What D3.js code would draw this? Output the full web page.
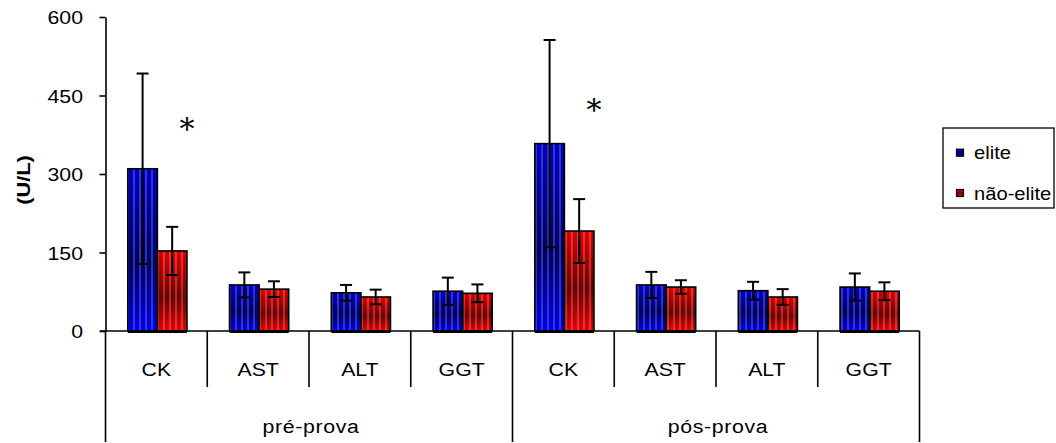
<!DOCTYPE html>
<html>
<head>
<meta charset="utf-8">
<script src="https://cdn.jsdelivr.net/npm/d3@7"></script>
<style>
	body { margin: 0; background: #ffffff; }
	text { font-family: "Liberation Sans", Arial, sans-serif; fill: #000000; }
</style>
</head>
<body>
<script>
// values (U/L), slot order: pre CK AST ALT GGT, post CK AST ALT GGT
var groups = ["pré-prova", "pós-prova"];
var analytes = ["CK", "AST", "ALT", "GGT"];
var series = ["elite", "não-elite"];

var eliteMean = [310, 88, 73, 76, 358, 88, 77, 84];
var eliteSD = [182, 24, 15, 26, 198, 25, 17, 26];
var naoEliteMean = [153, 80, 65, 72, 191, 84, 65, 76];
var naoEliteSD = [46, 15, 14, 17, 61, 13, 15, 17];

var yTicks = [0, 150, 300, 450, 600];

// significance marks: slot index and height (U/L) of the asterisk
var starSlot = [0, 4];
var starValue = [400, 435];

var width = 1056;
var height = 443;
var SX = 1.12; // the original picture is a bit wider than tall

var svg = d3.select("body")
	.append("svg")
	.attr("width", width)
	.attr("height", height);

var defs = svg.append("defs");

function make_shade(id, c1, c2, c3) {
	var g = defs.append("linearGradient")
		.attr("id", id)
		.attr("x1", 0).attr("y1", 0)
		.attr("x2", 0).attr("y2", 1);
	g.append("stop").attr("offset", "0%").attr("stop-color", c1);
	g.append("stop").attr("offset", "58%").attr("stop-color", c2);
	g.append("stop").attr("offset", "100%").attr("stop-color", c3);
}
make_shade("shade0", "#0000d0", "#000070", "#0000f0");
make_shade("shade1", "#e80000", "#780000", "#f20000");

var stripes = defs.append("pattern")
	.attr("id", "stripes")
	.attr("patternUnits", "userSpaceOnUse")
	.attr("width", 6)
	.attr("height", 10);
stripes.append("rect").attr("x", 1).attr("y", 0).attr("width", 2).attr("height", 10)
	.attr("fill", "#ffffff").attr("fill-opacity", 0.2);
stripes.append("rect").attr("x", 4).attr("y", 0).attr("width", 1).attr("height", 10)
	.attr("fill", "#000000").attr("fill-opacity", 0.2);

var slots = [];
for (var g = 0; g < groups.length; g++) {
	for (var a = 0; a < analytes.length; a++) {
		slots.push({ "group": groups[g], "name": analytes[a], "i": g * analytes.length + a });
	}
}

var x = d3.scaleBand()
	.domain(d3.range(slots.length))
	.range([105.5, 919.5])
	.padding(0);

var xs = d3.scaleBand()
	.domain(series)
	.range([0, x.bandwidth()])
	.paddingInner(0)
	.paddingOuter(0.72);

var y = d3.scaleLinear()
	.domain([0, 600])
	.range([331, 17]);

var bars = [];
for (var i = 0; i < slots.length; i++) {
	bars.push({ "slot": i, "s": 0, "mean": eliteMean[i], "sd": eliteSD[i] });
	bars.push({ "slot": i, "s": 1, "mean": naoEliteMean[i], "sd": naoEliteSD[i] });
}

function bar_x(d) { return x(d.slot) + xs(series[d.s]) + 1; }

var barG = svg.append("g").attr("class", "bars");

barG.selectAll("rect.fill")
	.data(bars)
	.enter().append("rect")
	.attr("class", "fill")
	.attr("x", bar_x)
	.attr("y", function(d) { return y(d.mean); })
	.attr("width", xs.bandwidth())
	.attr("height", function(d) { return y(0) - y(d.mean); })
	.attr("fill", function(d) { return "url(#shade" + d.s + ")"; });

barG.selectAll("rect.stripe")
	.data(bars)
	.enter().append("rect")
	.attr("class", "stripe")
	.attr("x", bar_x)
	.attr("y", function(d) { return y(d.mean); })
	.attr("width", xs.bandwidth())
	.attr("height", function(d) { return y(0) - y(d.mean); })
	.attr("fill", "url(#stripes)")
	.attr("stroke", "#000000")
	.attr("stroke-width", 1.6);

// error bars
var errG = svg.append("g").attr("class", "errors")
	.attr("stroke", "#000000")
	.attr("stroke-width", 2);

errG.selectAll("line.v")
	.data(bars)
	.enter().append("line")
	.attr("x1", function(d) { return bar_x(d) + xs.bandwidth() / 2; })
	.attr("x2", function(d) { return bar_x(d) + xs.bandwidth() / 2; })
	.attr("y1", function(d) { return y(d.mean + d.sd); })
	.attr("y2", function(d) { return y(d.mean - d.sd); });

[1, -1].forEach(function(sign) {
	errG.selectAll(null)
		.data(bars)
		.enter().append("line")
		.attr("x1", function(d) { return bar_x(d) + xs.bandwidth() / 2 - 6; })
		.attr("x2", function(d) { return bar_x(d) + xs.bandwidth() / 2 + 6; })
		.attr("y1", function(d) { return y(d.mean + sign * d.sd); })
		.attr("y2", function(d) { return y(d.mean + sign * d.sd); });
});

// y axis
var yAxis = svg.append("g")
	.attr("transform", "translate(105.5,0)")
	.call(d3.axisLeft(y).tickValues(yTicks).tickSize(6).tickSizeOuter(0));
yAxis.select(".domain").attr("stroke-width", 1.6);
yAxis.selectAll(".tick line").attr("stroke-width", 1.6);
yAxis.selectAll(".tick text")
	.attr("x", 0)
	.attr("dy", "0.35em")
	.attr("transform", "translate(-22.5,0) scale(" + SX + ",1)")
	.style("font-family", "'Liberation Sans', Arial, sans-serif")
	.style("font-size", "19px");

svg.append("text")
	.attr("transform", "translate(30,180) rotate(-90) scale(1.15,1)")
	.attr("text-anchor", "middle")
	.style("font-size", "19px")
	.style("font-weight", "bold")
	.text("(U/L)");

// x axis with two-level category labels
var axisG = svg.append("g").attr("stroke", "#000000").attr("stroke-width", 1.6);
axisG.append("line")
	.attr("x1", 100).attr("x2", x.range()[1])
	.attr("y1", y(0)).attr("y2", y(0));

// thicker base under each pair of bars
axisG.selectAll("line.base")
	.data(d3.range(slots.length))
	.enter().append("line")
	.attr("class", "base")
	.attr("x1", function(i) { return bar_x({ "slot": i, "s": 0 }); })
	.attr("x2", function(i) { return bar_x({ "slot": i, "s": 1 }) + xs.bandwidth(); })
	.attr("y1", y(0) + 0.8).attr("y2", y(0) + 0.8)
	.attr("stroke-width", 2.6);

var bounds = d3.range(slots.length + 1);
axisG.selectAll("line.sep")
	.data(bounds)
	.enter().append("line")
	.attr("class", "sep")
	.attr("x1", function(b) { return x.range()[0] + b * x.step(); })
	.attr("x2", function(b) { return x.range()[0] + b * x.step(); })
	.attr("y1", y(0))
	.attr("y2", function(b) { return b % analytes.length === 0 ? 442 : 387; });

svg.selectAll("text.cat")
	.data(slots)
	.enter().append("text")
	.attr("class", "cat")
	.attr("text-anchor", "middle")
	.attr("transform", function(d) { return "translate(" + (x(d.i) + x.bandwidth() / 2) + ",375.5) scale(" + SX + ",1)"; })
	.style("font-size", "19px")
	.text(function(d) { return d.name; });

svg.selectAll("text.grp")
	.data(groups)
	.enter().append("text")
	.attr("class", "grp")
	.attr("text-anchor", "middle")
	.attr("transform", function(d, gi) {
		var cx = x(gi * analytes.length) + x.step() * analytes.length / 2 + 2;
		return "translate(" + cx + ",433) scale(" + SX + ",1)";
	})
	.style("font-size", "19px")
	.style("letter-spacing", "0.6px")
	.text(function(d) { return d; });

// asterisks over the non-elite bars
svg.selectAll("text.star")
	.data(starSlot)
	.enter().append("text")
	.attr("class", "star")
	.attr("text-anchor", "middle")
	.attr("x", function(d) { return bar_x({ "slot": d, "s": 1 }) + xs.bandwidth(); })
	.attr("y", function(d, k) { return y(starValue[k]) + 17; })
	.style("font-family", "'DejaVu Serif', 'Liberation Serif', serif")
	.style("font-size", "30px")
	.style("font-weight", "300")
	.text("*");

// legend
var legend = svg.append("g").attr("class", "legend");
legend.append("rect")
	.attr("x", 943).attr("y", 128)
	.attr("width", 111).attr("height", 80)
	.attr("fill", "#ffffff")
	.attr("stroke", "#000000")
	.attr("stroke-width", 1.3);

var legendY = d3.scalePoint().domain(series).range([152.7, 193]);

legend.selectAll("rect.key")
	.data(series)
	.enter().append("rect")
	.attr("class", "key")
	.attr("x", 956.5)
	.attr("y", function(d) { return legendY(d) - 3.5; })
	.attr("width", 7).attr("height", 7)
	.attr("fill", function(d, k) { return "url(#shade" + k + ")"; })
	.attr("stroke", "#000000")
	.attr("stroke-width", 1.2);

legend.selectAll("text.key")
	.data(series)
	.enter().append("text")
	.attr("class", "key")
	.attr("transform", function(d) { return "translate(974," + (legendY(d) + 6.5) + ") scale(" + SX + ",1)"; })
	.style("font-size", "18px")
	.text(function(d) { return d; });
</script>
</body>
</html>
